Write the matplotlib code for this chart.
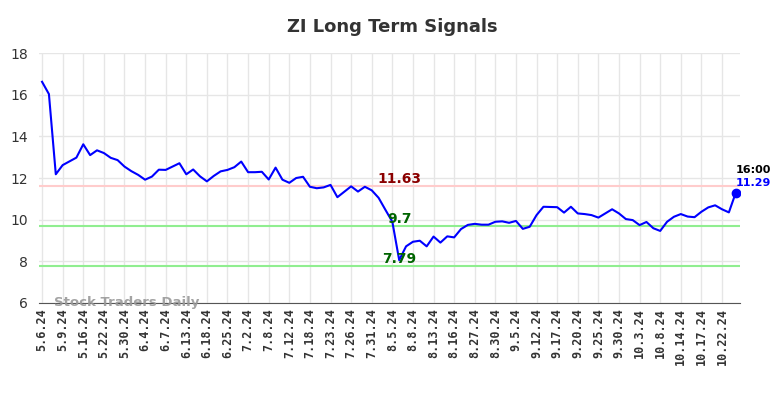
import matplotlib.pyplot as plt
import numpy as np

# Signal values (one per trading session)
values = [16.62, 16.03, 12.18, 12.62, 12.8, 12.98, 13.62, 13.1, 13.33, 13.2,
          12.97, 12.86, 12.55, 12.33, 12.15, 11.92, 12.07, 12.4, 12.39, 12.55,
          12.71, 12.18, 12.41, 12.08, 11.84, 12.1, 12.32, 12.39, 12.52, 12.79,
          12.28, 12.28, 12.3, 11.93, 12.5, 11.92, 11.77, 12.0, 12.06, 11.58,
          11.51, 11.55, 11.67, 11.08, 11.34, 11.6, 11.35, 11.58, 11.41, 11.05,
          10.47, 9.9, 8.06, 8.72, 8.94, 8.99, 8.72, 9.19, 8.9, 9.2,
          9.15, 9.55, 9.75, 9.8, 9.76, 9.76, 9.9, 9.92, 9.85, 9.94,
          9.56, 9.66, 10.22, 10.62, 10.61, 10.6, 10.34, 10.62, 10.3, 10.27,
          10.22, 10.1, 10.3, 10.5, 10.3, 10.03, 9.98, 9.74, 9.89, 9.59,
          9.46, 9.9, 10.14, 10.27, 10.15, 10.12, 10.38, 10.59, 10.69, 10.5,
          10.35, 11.29]

tick_labels = ['5.6.24', '5.9.24', '5.16.24', '5.22.24', '5.30.24', '6.4.24',
               '6.7.24', '6.13.24', '6.18.24', '6.25.24', '7.2.24', '7.8.24',
               '7.12.24', '7.18.24', '7.23.24', '7.26.24', '7.31.24', '8.5.24',
               '8.8.24', '8.13.24', '8.16.24', '8.27.24', '8.30.24', '9.5.24',
               '9.12.24', '9.17.24', '9.20.24', '9.25.24', '9.30.24', '10.3.24',
               '10.8.24', '10.14.24', '10.17.24', '10.22.24']

resistance = 11.63
support_hi = 9.7
support_lo = 7.79
last_time = '16:00'

x = np.arange(len(values))
ticks = np.arange(0, len(tick_labels) * 3, 3)

fig = plt.figure(figsize=(7.84, 3.98), dpi=100)
ax = fig.add_axes([0.0497, 0.2387, 0.894, 0.628])

ax.plot(x, values, color='blue', lw=1.5, zorder=3)
ax.axhline(resistance, color='#ffcccc', lw=1.5, zorder=2)
ax.axhline(support_hi, color='#90ee90', lw=1.5, zorder=2)
ax.axhline(support_lo, color='#90ee90', lw=1.5, zorder=2)

# level labels
lx = 52
ax.text(lx, resistance + 0.0, f'{resistance}', color='darkred', fontsize=10,
        fontweight='bold', ha='center', va='bottom')
ax.text(lx, support_hi + 0.0, f'{support_hi}', color='darkgreen', fontsize=10,
        fontweight='bold', ha='center', va='bottom')
ax.text(lx, support_lo + 0.0, f'{support_lo}', color='darkgreen', fontsize=10,
        fontweight='bold', ha='center', va='bottom')

# last point
ax.plot(x[-1], values[-1], 'o', color='blue', ms=6, zorder=4)
ax.text(x[-1], values[-1] + 1.08, last_time, color='black', fontsize=8,
        fontweight='bold', ha='left', va='center')
ax.text(x[-1], values[-1] + 0.45, f'{values[-1]}', color='blue', fontsize=8,
        fontweight='bold', ha='left', va='center')

ax.text(1.7, 6.0, 'Stock Traders Daily', color='#999999', fontsize=9.5,
        fontweight='bold', ha='left', va='center', alpha=0.9)

ax.set_xlim(-0.45, 101.6)
ax.set_ylim(6, 18)
ax.set_yticks(range(6, 19, 2))
ax.set_xticks(ticks)
ax.set_xticklabels(tick_labels, rotation=90, family='DejaVu Sans Mono',
                   fontweight='bold', fontsize=8.5)
ax.tick_params(axis='both', length=0, colors='#333333')
ax.tick_params(axis='y', labelsize=10, pad=8)
ax.grid(True, color='#e6e6e6', lw=1)
ax.set_axisbelow(True)
for s in ['top', 'right', 'left']:
    ax.spines[s].set_visible(False)
ax.spines['bottom'].set_color('#555555')

fig.suptitle('ZI Long Term Signals', fontsize=13, fontweight='bold',
             color='#333333', y=0.955)

fig.savefig('out.png', dpi=100)
